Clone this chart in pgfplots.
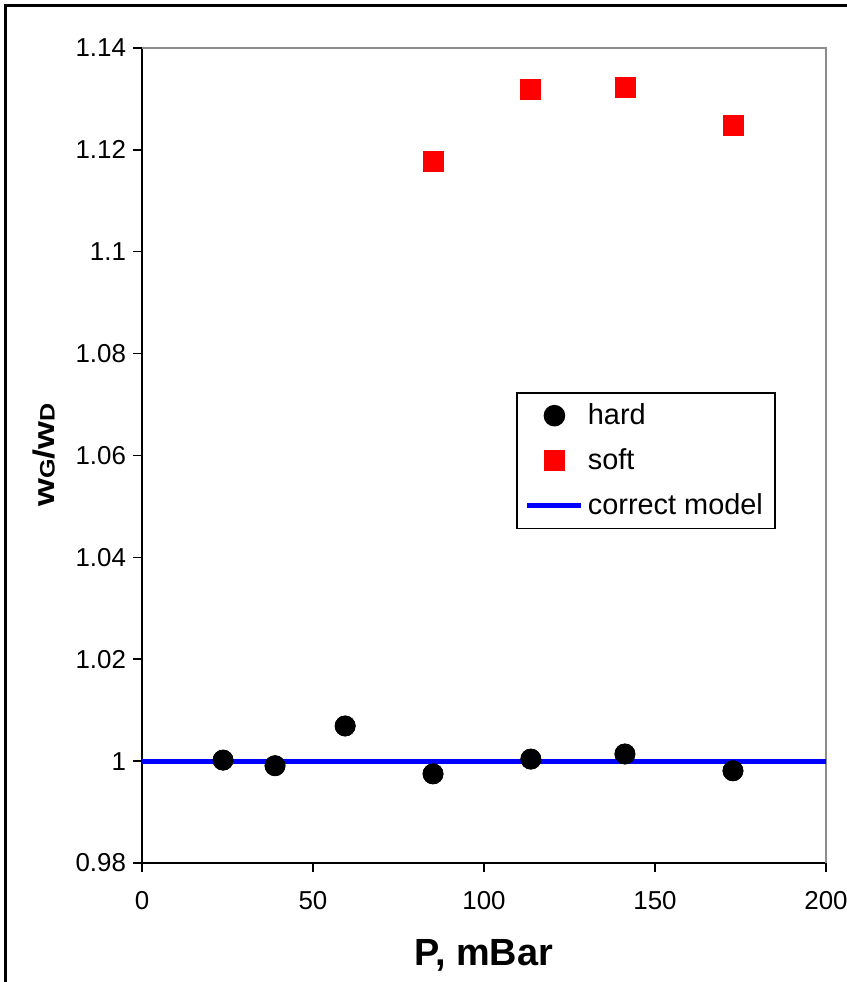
\documentclass[border=0pt]{standalone}
\usepackage{pgfplots}
\pgfplotsset{compat=1.18}
\usepackage{fontspec}
\setmainfont{Liberation Sans}
\usepackage{graphicx}
\pgfplotsset{
  mleg/.style={legend image code/.code={\draw[##1] plot coordinates {(13.5bp,0bp)};}},
  lleg/.style={legend image code/.code={\draw[##1] (0bp,0bp) -- (27bp,0bp);}},
}
\begin{document}
\begin{tikzpicture}
\path[use as bounding box] (0,0) rectangle (423.5bp,491bp);
\draw[line width=1.5bp] (2.5bp,0) -- (2.5bp,488bp) -- (423.5bp,488bp);
\begin{axis}[
  at={(71bp,59.5bp)}, anchor=south west,
  scale only axis, width=342bp, height=407.5bp,
  xmin=0, xmax=200, ymin=0.98, ymax=1.14,
  xtick={0,50,100,150,200},
  ytick={0.98,1,1.02,1.04,1.06,1.08,1.1,1.12,1.14},
  yticklabels={0.98,1,1.02,1.04,1.06,1.08,1.1,1.12,1.14},
  xticklabels={0,50,100,150,200},
  axis lines=left,
  axis line style={-, black, line width=0.85bp},
  tick align=outside,
  major tick length=4.5bp,
  tick style={black, line width=0.75bp},
  ticklabel style={font=\fontsize{13}{15}\selectfont},
  xticklabel style={yshift=-6bp},
  /pgf/number format/assume math mode=true,
  clip=false,
  legend style={at={(0.547,0.578)}, anchor=north west, draw=black, line width=0.8bp,
     font=\fontsize{14.5}{17}\selectfont, inner xsep=4bp, inner ysep=3.5bp,
     row sep=6.5bp, cells={anchor=west}},
  legend cell align=left,
]
\draw[gray!90, line width=1bp] (rel axis cs:0,1) -- (rel axis cs:1,1) -- (rel axis cs:1,0);
\addplot[only marks, mark=*, mark size=5bp, black, mleg]
  coordinates {(23.7,1.0002) (38.9,0.9991) (59.4,1.0069) (85.1,0.9975) (113.7,1.0004) (141.2,1.0014) (172.8,0.9981)};
\addlegendentry{hard}
\addplot[only marks, mark=square*, mark size=5bp, red, mleg]
  coordinates {(85.1,1.1178) (113.7,1.1318) (141.2,1.1323) (172.8,1.1249)};
\addlegendentry{soft}
\addplot[blue, line width=2.5bp, no marks, lleg]
  coordinates {(0,1) (200,1)};
\addlegendentry{correct model}
\addplot[only marks, mark=*, mark size=5bp, black, forget plot]
  coordinates {(23.7,1.0002) (38.9,0.9991) (59.4,1.0069) (85.1,0.9975) (113.7,1.0004) (141.2,1.0014) (172.8,0.9981)};
\end{axis}
\node[rotate=90] at (22bp,263.5bp) {\scalebox{1.2}[1]{\bfseries\fontsize{15}{17}\selectfont w{\fontsize{10.5}{12}\selectfont G}/w{\fontsize{10.5}{12}\selectfont D}}};
\node at (242bp,13.5bp) {\bfseries\fontsize{19}{22}\selectfont P, mBar};
\end{tikzpicture}
\end{document}
